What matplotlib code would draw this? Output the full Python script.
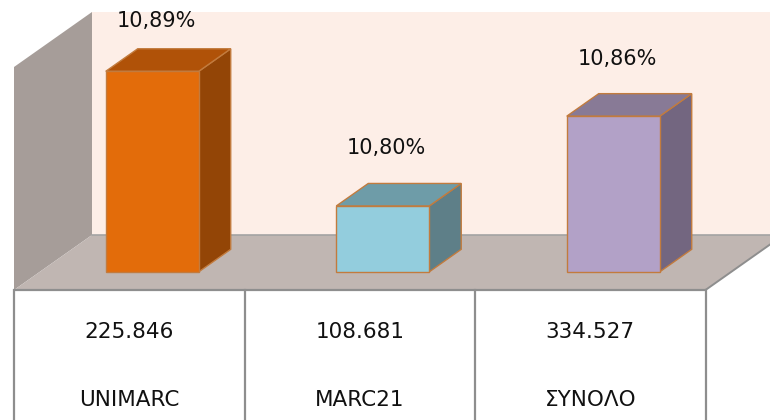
import matplotlib
matplotlib.use("Agg")
import matplotlib.pyplot as plt
from matplotlib.patches import Polygon

# ---- data ----
categories = ["UNIMARC", "MARC21", "ΣΥΝΟΛΟ"]
percentages = [10.89, 10.80, 10.86]
counts = [225846, 108681, 334527]

# implied (hidden) value axis of the 3D chart
vmin, vmax = 10.756, 10.905

# ---- styles ----
front_colors = ["#E36C0A", "#93CDDD", "#B2A1C7"]
top_colors = ["#B05208", "#6E9CA8", "#887A96"]
side_colors = ["#934506", "#5E7F88", "#736680"]
bar_edge = "#C27B3E"
line_gray = "#8E8E8E"

W, H = 770, 420
fig = plt.figure(figsize=(W / 100, H / 100), dpi=100)
ax = fig.add_axes([0, 0, 1, 1])
ax.set_xlim(0, W)
ax.set_ylim(H, 0)
ax.axis("off")

# geometry of the plot box (pixels)
x_left = 14          # front-left corner of floor
floor_front_y = 290
depth_dx, depth_dy = 78, 55
wall_h = 223
cell_w = 230.5
n = len(categories)
x_right = x_left + n * cell_w


def proj(x, d, h):
    """x along front, d depth fraction (0 front .. 1 back), h pixel height."""
    return (x + d * depth_dx, floor_front_y - d * depth_dy - h)


def add_poly(pts, fc, ec="none", lw=0, z=1):
    ax.add_patch(Polygon(pts, closed=True, facecolor=fc, edgecolor=ec,
                         linewidth=lw, zorder=z, joinstyle="miter"))


# back wall
add_poly([proj(x_left, 1, 0), proj(W + 100, 1, 0),
          proj(W + 100, 1, wall_h), proj(x_left, 1, wall_h)], "#FDEEE7", z=1)
# side wall
add_poly([proj(x_left, 0, 0), proj(x_left, 1, 0),
          proj(x_left, 1, wall_h), proj(x_left, 0, wall_h)], "#A69D99", z=2)
# floor
add_poly([proj(x_left, 0, 0), proj(x_left, 1, 0), proj(W + 100, 1, 0),
          proj(x_right, 1, 0), proj(x_right, 0, 0)], "#C0B6B2", z=2)
# floor edges
bx0, by0 = proj(x_left, 1, 0)
ax.plot([bx0, W], [by0, by0], color="#A3A3A3", lw=1.2, zorder=3)
fx, fy = proj(x_right, 0, 0)
bx, by = proj(x_right, 1, 0)
ax.plot([fx, bx], [fy, by], color=line_gray, lw=1.4, zorder=3)

# table lines
ax.plot([x_left, x_right], [floor_front_y, floor_front_y], color=line_gray,
        lw=1.6, zorder=3, solid_capstyle="butt")
for i in range(n + 1):
    xv = x_left + i * cell_w
    ax.plot([xv, xv], [floor_front_y, H + 5], color=line_gray, lw=1.6, zorder=3)

# bars
bar_w = 93
d0, d1 = 0.33, 0.74
scale = wall_h / (vmax - vmin)
for i, (cat, v) in enumerate(zip(categories, percentages)):
    cx = x_left + (i + 0.5) * cell_w
    x0 = cx - bar_w / 2 + 24 - d0 * depth_dx - 1
    x1 = x0 + bar_w
    h = (v - vmin) * scale
    front = [proj(x0, d0, 0), proj(x1, d0, 0), proj(x1, d0, h), proj(x0, d0, h)]
    top = [proj(x0, d0, h), proj(x1, d0, h), proj(x1, d1, h), proj(x0, d1, h)]
    side = [proj(x1, d0, 0), proj(x1, d1, 0), proj(x1, d1, h), proj(x1, d0, h)]
    add_poly(side, side_colors[i], bar_edge, 1.0, z=5)
    add_poly(top, top_colors[i], bar_edge, 1.0, z=5)
    add_poly(front, front_colors[i], bar_edge, 1.0, z=6)
    lx = (x0 + x1) / 2 + d0 * depth_dx + 4
    _, ly = proj(x0, d1, h)
    ax.text(lx, max(ly - 35, 21), f"{v:.2f}%".replace(".", ","),
            ha="center", va="center", fontsize=15, color="#111111",
            family="DejaVu Sans", zorder=7)
    # table text
    ax.text(cx, 332, f"{counts[i]:,}".replace(",", "."), ha="center",
            va="center", fontsize=15.5, color="#111111", family="DejaVu Sans",
            zorder=7)
    ax.text(cx, 400, cat, ha="center", va="center", fontsize=15.5,
            color="#111111", family="DejaVu Sans", zorder=7)

fig.savefig("out.png", dpi=100, facecolor="white")
